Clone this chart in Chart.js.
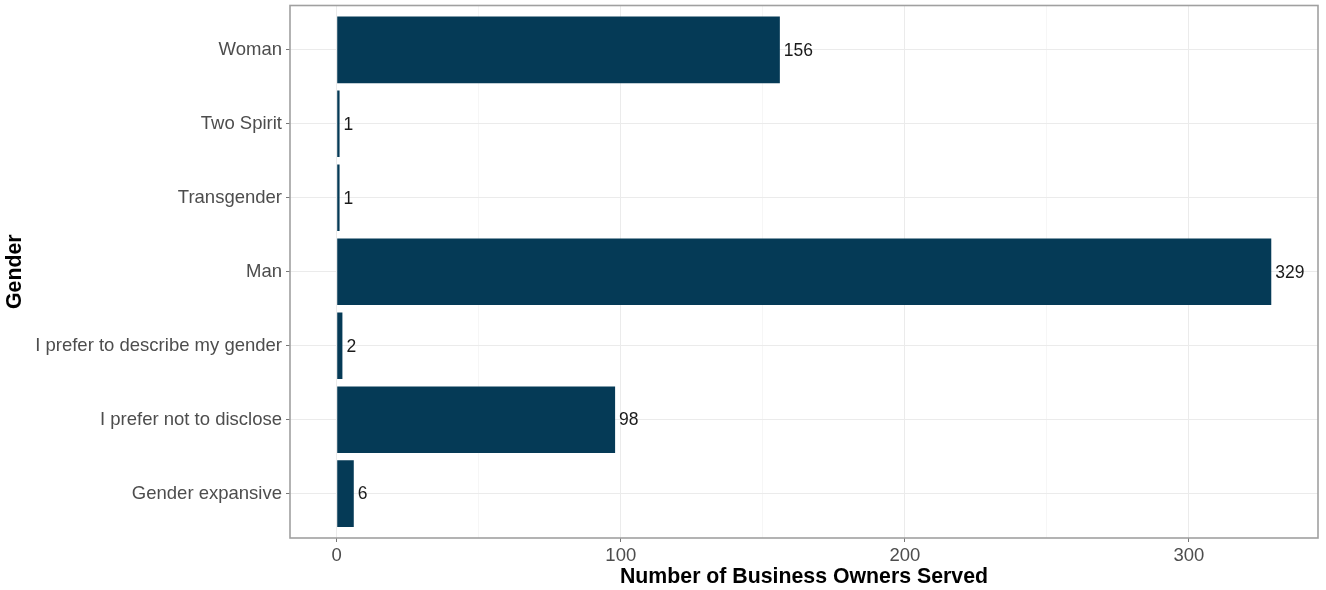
<!DOCTYPE html>
<html>
<head>
<meta charset="utf-8">
<script src="https://cdn.jsdelivr.net/npm/chart.js@4"></script>
<style>
    html, body { margin: 0; padding: 0; background: #fff; }
    #wrap { width: 1326px; height: 590px; }
</style>
</head>
<body>
<div id="wrap"><canvas id="gender-chart" width="1326" height="590"></canvas></div>
<script>
// categories listed bottom to top (ggplot factor order)
const categories = [
    'Gender expansive',
    'I prefer not to disclose',
    'I prefer to describe my gender',
    'Man',
    'Transgender',
    'Two Spirit',
    'Woman'
];
const counts = [6, 98, 2, 329, 1, 1, 156];
const xTicks = [0, 100, 200, 300];

const barColor = '#053a56';
const fontFamily = '"Liberation Sans", Arial, sans-serif';

// panel border like theme_bw
const panelBorder = {
    id: 'panelBorder',
    afterDraw(chart) {
        const { ctx, chartArea: a } = chart;
        ctx.save();
        ctx.strokeStyle = '#a0a0a0';
        ctx.lineWidth = 1.6;
        ctx.strokeRect(a.left, a.top, a.right - a.left, a.bottom - a.top);
        ctx.restore();
    }
};

// value labels at the end of each bar
const barLabels = {
    id: 'barLabels',
    afterDatasetsDraw(chart) {
        const { ctx } = chart;
        const meta = chart.getDatasetMeta(0);
        ctx.save();
        ctx.fillStyle = '#1a1a1a';
        ctx.font = '17.5px ' + fontFamily;
        ctx.textBaseline = 'middle';
        ctx.textAlign = 'left';
        meta.data.forEach((bar, i) => {
            ctx.fillText(String(counts[i]), bar.x + 4, bar.y + 1);
        });
        ctx.restore();
    }
};

const ctx = document.getElementById('gender-chart').getContext('2d');
const genderChart = new Chart(ctx, {
    type: 'bar',
    data: {
        datasets: [{
            label: 'Gender',
            data: counts.map((v, i) => ({ x: v, y: i + 1 })),
            backgroundColor: barColor,
            borderWidth: 0,
            barPercentage: 0.9,
            categoryPercentage: 1
        }]
    },
    options: {
        indexAxis: 'y',
        responsive: false,
        devicePixelRatio: 1,
        animation: false,
        layout: { padding: { top: 5.5, right: 8, left: 0, bottom: 0 } },
        plugins: {
            legend: { display: false },
            tooltip: { enabled: false }
        },
        scales: {
            x: {
                type: 'linear',
                min: -16.45,
                max: 345.45,
                afterFit: (scale) => { scale.height = 52; },
                ticks: {
                    stepSize: 50,
                    includeBounds: false,
                    autoSkip: false,
                    maxRotation: 0,
                    padding: 3,
                    color: '#4d4d4d',
                    font: { family: fontFamily, size: 18.5 },
                    callback: (v) => xTicks.includes(v) ? String(v) : ''
                },
                grid: {
                    color: (c) => c.tick && xTicks.includes(c.tick.value) ? '#ebebeb' : '#f6f6f6',
                    tickColor: (c) => c.tick && xTicks.includes(c.tick.value) ? '#777' : 'rgba(0,0,0,0)',
                    tickLength: 4,
                    lineWidth: 1
                },
                border: { display: false },
                title: {
                    display: true,
                    text: 'Number of Business Owners Served',
                    color: '#000',
                    font: { family: fontFamily, size: 21.3, weight: 'bold' },
                    padding: { top: 0, bottom: 0 }
                }
            },
            y: {
                type: 'linear',
                min: 0.4,
                max: 7.6,
                offset: false,
                afterFit: (scale) => {
                    scale.width = 290;
                    scale.paddingTop = 0;
                    scale.paddingBottom = 0;
                },
                ticks: {
                    stepSize: 1,
                    includeBounds: false,
                    autoSkip: false,
                    padding: 4,
                    color: '#4d4d4d',
                    font: { family: fontFamily, size: 18.5 },
                    callback: (v) => categories[v - 1] || ''
                },
                grid: {
                    offset: false,
                    color: '#ebebeb',
                    tickColor: '#777',
                    tickLength: 4,
                    lineWidth: 1
                },
                border: { display: false },
                title: {
                    display: true,
                    text: 'Gender',
                    color: '#000',
                    font: { family: fontFamily, size: 21.3, weight: 'bold' },
                    padding: { top: 2, bottom: 0 }
                }
            }
        }
    },
    plugins: [panelBorder, barLabels]
});
</script>
</body>
</html>
